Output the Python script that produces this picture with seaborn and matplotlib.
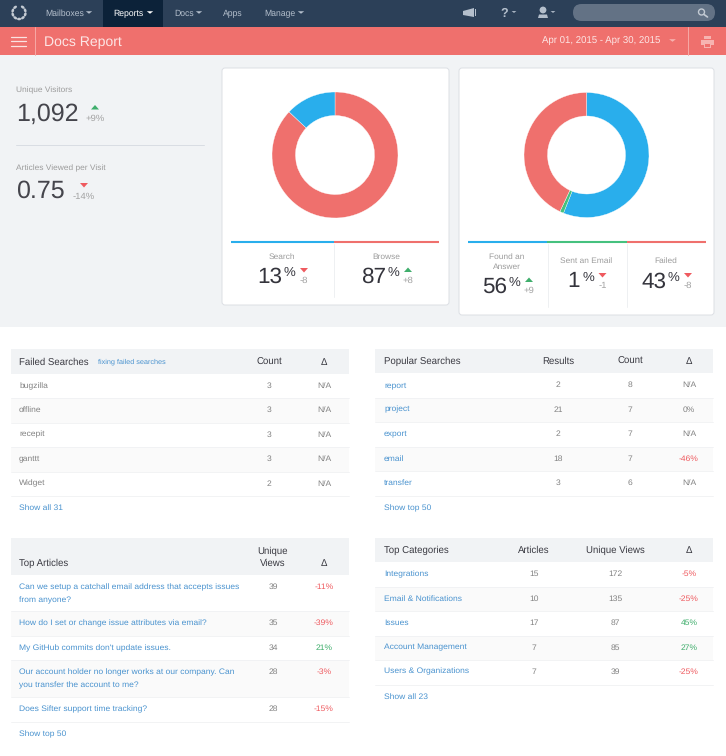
import matplotlib
matplotlib.use("Agg")
import matplotlib.pyplot as plt
import numpy as np
import seaborn as sns
from matplotlib.patches import Circle, Ellipse, FancyBboxPatch, Polygon, Rectangle

W, H = 726, 756

# ── data ──────────────────────────────────────
NAV_ITEMS = ["Mailboxes", "Reports", "Docs", "Apps", "Manage"]

SOURCE_LABELS = ["Search", "Browse"]
SOURCE_PCT = [13, 87]
SOURCE_DELTA = [-8, 8]

OUTCOME_LABELS = ["Found an\nAnswer", "Sent an Email", "Failed"]
OUTCOME_PCT = [56, 1, 43]
OUTCOME_DELTA = [9, -1, -8]

FAILED_TERMS = ["bugzilla", "offline", "recepit", "ganttt", "Widget"]
FAILED_COUNT = [3, 3, 3, 3, 2]
FAILED_DELTA = ["N/A", "N/A", "N/A", "N/A", "N/A"]

POPULAR_TERMS = ["report", "project", "export", "email", "transfer"]
POPULAR_RESULTS = [2, 21, 2, 18, 3]
POPULAR_COUNT = [8, 7, 7, 7, 6]
POPULAR_DELTA = ["N/A", "0%", "N/A", "-46%", "N/A"]

ARTICLE_TITLES = [
    "Can we setup a catchall email address that accepts issues\nfrom anyone?",
    "How do I set or change issue attributes via email?",
    "My GitHub commits don't update issues.",
    "Our account holder no longer works at our company. Can\nyou transfer the account to me?",
    "Does Sifter support time tracking?",
]
ARTICLE_VIEWS = [39, 35, 34, 28, 28]
ARTICLE_DELTA = ["-11%", "-39%", "21%", "-3%", "-15%"]

CATEGORY_NAMES = ["Integrations", "Email & Notifications", "Issues", "Account Management", "Users & Organizations"]
CATEGORY_ARTICLES = [15, 10, 17, 7, 7]
CATEGORY_VIEWS = [172, 135, 87, 85, 39]
CATEGORY_DELTA = ["-5%", "-25%", "45%", "27%", "-25%"]

# ── colours ───────────────────────────────────
CORAL = "#ef706d"
BLUE = "#29aeec"
GREEN = "#45c17e"
NAVY = "#2c4058"
LINK = "#4a93cf"
GREY = "#828282"
LABEL = "#9c9c9c"
DARK = "#3a3a42"
UP = "#3fae6c"
DOWN = "#ef5a5f"

sns.set_theme(style="white")
plt.rcParams["font.family"] = ["Liberation Sans", "DejaVu Sans"]
plt.rcParams["text.hinting"] = "no_hinting"

fig = plt.figure(figsize=(W / 100, H / 100), dpi=100, facecolor="white")
ax = fig.add_axes([0, 0, 1, 1])
ax.set_xlim(0, W)
ax.set_ylim(H, 0)
ax.axis("off")


def rect(x0, y0, x1, y1, color, z=1):
    ax.add_patch(Rectangle((x0, y0), x1 - x0, y1 - y0, fc=color, ec="none", zorder=z))


def label(x, y, s, size=6, color=GREY, ha="left", **kw):
    # baseline anchored so that descenders do not shift the line
    ax.text(x, y + 0.33 * size * 100 / 72, s, fontsize=size, color=color, ha=ha, va="baseline", zorder=5, **kw)


def caret(x, y, color, w=3.2, h=2.5):
    ax.add_patch(Polygon([(x - w, y - h / 2), (x + w, y - h / 2), (x, y + h / 2)], fc=color, ec="none", zorder=5))


def trend(x, y, delta):
    # triangle pointing up when delta is positive
    s = 1 if delta > 0 else -1
    color = UP if delta > 0 else DOWN
    ax.add_patch(Polygon([(x - 4, y + 2 * s), (x + 4, y + 2 * s), (x, y - 2.5 * s)], fc=color, ec="none", zorder=5))


def card(x0, y0, x1, y1):
    ax.add_patch(FancyBboxPatch((x0 + 2, y0 + 2), x1 - x0 - 4, y1 - y0 - 4, boxstyle="round,pad=2,rounding_size=3",
                                fc="white", ec="#dcdfe4", lw=0.7, zorder=2))


# ── page bands ────────────────────────────────
rect(0, 0, W, 27, NAVY)
rect(103, 0, 163, 27, "#0c2239", 2)
rect(0, 27, W, 55, CORAL)
rect(0, 55, W, 327, "#f1f3f5")

# ── top nav ───────────────────────────────────
nav_x = [45, 113.5, 174, 223, 264]
nav_caret = [89, 150, 199, None, 301]
for name, x, cx in zip(NAV_ITEMS, nav_x, nav_caret):
    c = "white" if name == "Reports" else "#b4bfcc"
    label(x, 13, name, 6.2, c)
    if cx:
        caret(cx, 12.5, c)

# logo
for a in np.radians(np.arange(-55, 236, 36)):
    ax.add_patch(Ellipse((19 + 6.5 * np.cos(a), 12.5 + 6.5 * np.sin(a)), 2.6, 4.2, angle=np.degrees(a), fc="#c3cad2", ec="none", zorder=5))

# megaphone, help, user, search
ax.add_patch(Polygon([(463, 11), (474, 8), (474, 17), (463, 15)], fc="#b4bfcc", ec="none", zorder=5))
rect(475, 9, 476, 16, "#b4bfcc", 5)
label(504, 12.5, "?", 9, "#b4bfcc", ha="center", fontweight="bold")
caret(514, 12, "#b4bfcc", 2.4, 1.8)
ax.add_patch(Circle((543, 10), 3.4, fc="#b4bfcc", ec="none", zorder=5))
ax.add_patch(Polygon([(538, 18), (548, 18), (547, 14.5), (539, 14.5)], fc="#b4bfcc", ec="none", zorder=5))
caret(553, 12, "#b4bfcc", 2.4, 1.8)
ax.add_patch(FancyBboxPatch((573, 4), 142, 17, boxstyle="round,pad=0,rounding_size=8.5", fc="#637285", ec="none", zorder=3))
ax.add_patch(Circle((701.5, 12), 3, fc="none", ec="#c3cad3", lw=1, zorder=5))
ax.plot([704, 707.5], [14.5, 17], color="#c3cad3", lw=1.2, zorder=5)

# ── report bar ────────────────────────────────
for y in (36.5, 41, 45.5):
    ax.plot([10.5, 26], [y, y], color="#fbe3e2", lw=0.9, zorder=5)
for x in (34.5, 688):
    ax.plot([x, x], [27, 55], color="#f7a9a6", lw=0.7, zorder=5)
label(43.5, 41, "Docs Report", 10.1, "#fde6e5")
label(542, 41, "Apr 01, 2015 - Apr 30, 2015", 6.9, "#fde6e5")
caret(672.5, 40.5, "#f7b3b0", 3.4, 2.6)
rect(704, 36, 711, 39, "#f7b3b0", 5)
rect(701, 39.5, 714, 45, "#f7b3b0", 5)
rect(704, 43, 711, 48, "#f7b3b0", 5)
rect(705, 44, 710, 47, CORAL, 6)

# ── left stats ────────────────────────────────
label(16, 90, "Unique Visitors", 6, LABEL)
label(16, 113, "1,092", 18, "#45454c")
trend(95, 107.5, 9)
label(95, 118, "+9%", 6.8, "#a2a2a2", ha="center")
ax.plot([16, 204], [144.5, 144.5], color="#d9dde3", lw=0.7, zorder=3)
label(16, 168, "Articles Viewed per Visit", 6, LABEL)
label(16, 190, "0.75", 18, "#45454c")
trend(84, 185, -14)
label(84, 196, "-14%", 6.8, "#a2a2a2", ha="center")

# ── donut cards ───────────────────────────────
card(222, 68, 449, 305)
card(459, 68, 714, 315)


def donut(cx, cy, r, values, colors):
    dax = fig.add_axes([(cx - r) / W, 1 - (cy + r) / H, 2 * r / W, 2 * r / H], zorder=3)
    dax.pie(values, colors=colors, startangle=90, counterclock=False, radius=1,
            wedgeprops={"width": 23.5 / r, "edgecolor": "white", "linewidth": 0.25})
    dax.set_xlim(-1, 1)
    dax.set_ylim(-1, 1)


source_colors = sns.color_palette([CORAL, BLUE])
outcome_colors = sns.color_palette([BLUE, GREEN, CORAL])
donut(335, 155, 63, SOURCE_PCT[::-1], source_colors)
donut(586.5, 155, 62.5, OUTCOME_PCT, outcome_colors)


def kpi_block(x0, x1, y_line, color, lab, pct, delta, lab_y, num_y):
    ax.plot([x0, x1], [y_line, y_line], color=color, lw=1.5, solid_capstyle="butt", zorder=4)
    cx = (x0 + x1) / 2
    for i, line in enumerate(lab.split("\n")):
        label(cx - 0.5, lab_y + i * 10, line, 6, LABEL, ha="center")
    ncx = cx - 13
    label(ncx, num_y, str(pct), 16.2, "#34343c", ha="center")
    pct_x = ncx + (20 if pct >= 10 else 14)
    label(pct_x, num_y - 3, "%", 9.5, "#34343c", ha="center")
    trend(pct_x + 14.5, num_y - 5, delta)
    label(pct_x + 14.5, num_y + 5, f"{delta:+d}", 6.8, "#a2a2a2", ha="center")


kpi_block(231, 334, 241.7, BLUE, SOURCE_LABELS[0], SOURCE_PCT[0], SOURCE_DELTA[0], 256, 275)
kpi_block(334, 439, 241.7, CORAL, SOURCE_LABELS[1], SOURCE_PCT[1], SOURCE_DELTA[1], 256, 275)
kpi_block(468, 547, 241.7, BLUE, OUTCOME_LABELS[0], OUTCOME_PCT[0], OUTCOME_DELTA[0], 256, 285)
kpi_block(547, 627, 241.7, GREEN, OUTCOME_LABELS[1], OUTCOME_PCT[1], OUTCOME_DELTA[1], 260.5, 280)
kpi_block(627, 706, 241.7, CORAL, OUTCOME_LABELS[2], OUTCOME_PCT[2], OUTCOME_DELTA[2], 260.5, 280)
for x, y1 in ((333.5, 297), (547.5, 307), (627, 307)):
    ax.plot([x, x], [244, y1], color="#eef0f2", lw=0.7, zorder=3)


# ── tables ────────────────────────────────────
def delta_color(s):
    if s.startswith("-"):
        return DOWN
    if s in ("N/A", "0%"):
        return GREY
    return UP


def table(x0, x1, y0, head_h, row_tops, title, col_x, col_names, cols, deltas, first, first_color, footer, text_x):
    head_bottom = y0 + head_h
    rect(x0, y0, x1, head_bottom, "#f1f3f5")
    base_y = head_bottom - 12
    label(text_x, base_y, title, 6.9, DARK)
    for x, name in zip(col_x, col_names):
        lines = name.split("\n")
        for i, line in enumerate(lines):
            label(x, base_y - (len(lines) - 1 - i) * 12.5, line, 6.9, DARK, ha="center")
    for i, text in enumerate(first):
        top, bottom = row_tops[i], row_tops[i + 1]
        if i % 2 == 1:
            rect(x0, top, x1, bottom, "#fafafa")
        ax.plot([x0, x1], [bottom, bottom], color="#f0f1f3", lw=0.6, zorder=2)
        y = top + 11.5
        for k, line in enumerate(text.split("\n")):
            label(text_x, y + k * 12.6, line, 6.1, first_color)
        for x, col in zip(col_x[:-1], cols):
            label(x, y, str(col[i]), 6.1, GREY, ha="center")
        label(col_x[-1], y, deltas[i], 6.1, delta_color(deltas[i]), ha="center")
    label(text_x, row_tops[-1] + 12, footer, 6.1, LINK)


table(11, 349, 349, 25, [374, 397.5, 422.5, 446.5, 471.5, 495.5], "Failed Searches", [269, 324], ["Count", "Δ"],
      [FAILED_COUNT], FAILED_DELTA, FAILED_TERMS, GREY, "Show all 31", 19)
label(97.5, 361.5, "fixing failed searches", 5.2, LINK)

table(375, 713, 349, 24, [373, 397.5, 421.5, 446.5, 470.5, 495.5], "Popular Searches", [558, 630, 689],
      ["Results", "Count", "Δ"], [POPULAR_RESULTS, POPULAR_COUNT], POPULAR_DELTA, POPULAR_TERMS, LINK, "Show top 50", 384)

table(11, 349, 538, 37, [575, 611, 636, 660, 697, 722], "Top Articles", [273, 324], ["Unique\nViews", "Δ"],
      [ARTICLE_VIEWS], ARTICLE_DELTA, ARTICLE_TITLES, LINK, "Show top 50", 19)

table(375, 713, 538, 24, [562, 586.5, 610.5, 635.5, 659.5, 684.5], "Top Categories", [534, 615, 689],
      ["Articles", "Unique Views", "Δ"], [CATEGORY_ARTICLES, CATEGORY_VIEWS], CATEGORY_DELTA, CATEGORY_NAMES, LINK,
      "Show all 23", 384)

fig.savefig("out.png", dpi=100, facecolor="white")
